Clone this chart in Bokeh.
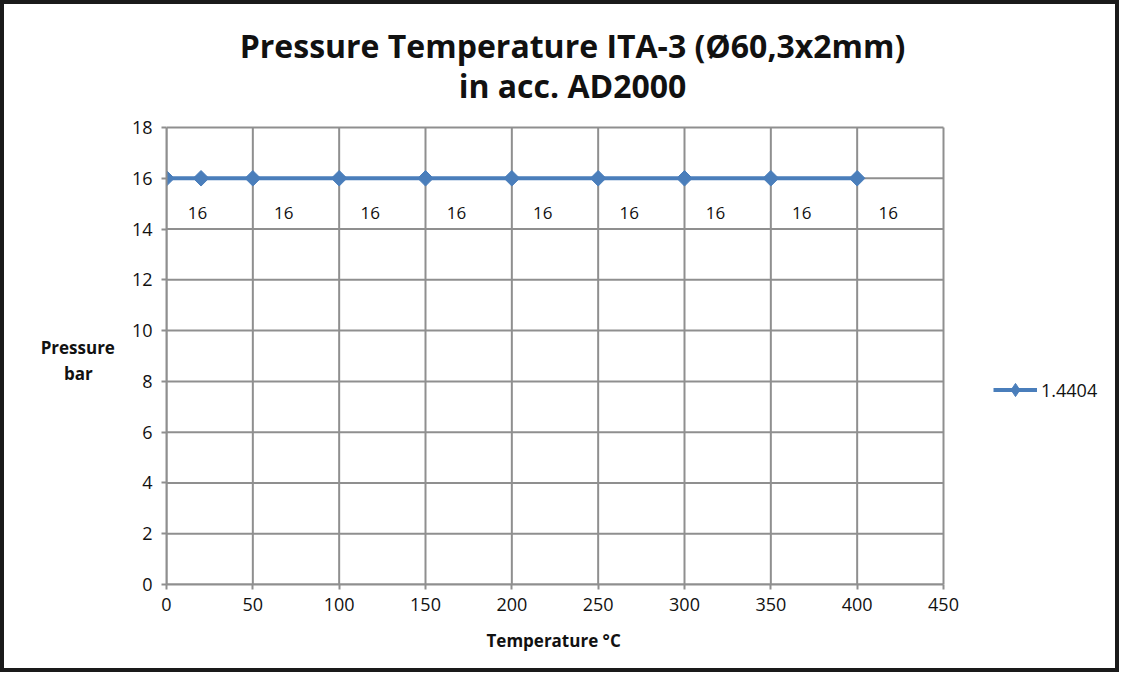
import math
from bokeh.plotting import figure
from bokeh.models import Range1d, FixedTicker, Legend, LegendItem, ColumnDataSource, Label, Title
from bokeh.core.properties import value
from bokeh.embed import file_html
from bokeh.resources import INLINE

# ---- data ----
temps = [0, 20, 50, 100, 150, 200, 250, 300, 350, 400]
pressure = [16, 16, 16, 16, 16, 16, 16, 16, 16, 16]
label_temps = [0, 50, 100, 150, 200, 250, 300, 350, 400]
series_name = "1.4404"
x_ticks = [0, 50, 100, 150, 200, 250, 300, 350, 400, 450]
y_ticks = [0, 2, 4, 6, 8, 10, 12, 14, 16, 18]
title1 = "Pressure Temperature ITA-3 (Ø60,3x2mm)"
title2 = "in acc. AD2000"
x_title = "Temperature °C"
y_title_lines = ["Pressure", "bar"]

FONT = "Open Sans"
BLUE = "#4a7ebb"
GRID = "#8f8f8f"
TXT = "#111111"

W, H = 1119, 672
FL, FR, FT, FB = 162, 939, 123, 580  # target plot-area edges inside canvas (px)

x0, x1 = x_ticks[0], x_ticks[-1]
y0, y1 = y_ticks[0], y_ticks[-1]
# the frame reaches the canvas top and right edge; ranges extended so that
# the ticked area lands on the target pixels
x_end = x0 + (x1 - x0) * (W - FL) / (FR - FL)
y_end = y0 + (y1 - y0) * (FB - 0) / (FB - FT)

p = figure(width=W, height=H, output_backend="svg", toolbar_location=None,
           title=None,
           x_range=Range1d(x0, x_end), y_range=Range1d(y0, y_end),
           min_border_left=FL, min_border_right=0,
           min_border_top=0, min_border_bottom=H - FB,
           background_fill_color="white", border_fill_color="white")
p.styles = {"border": "4px solid #1a1a1a"}
p.outline_line_color = None
p.xgrid.visible = False
p.ygrid.visible = False

def xd(px):
    return x0 + (px - FL) * (x1 - x0) / (FR - FL)

def yd(py):
    return y0 + (FB - py) * (y1 - y0) / (FB - FT)

for ax in (p.xaxis[0], p.yaxis[0]):
    ax.axis_line_color = GRID
    ax.axis_line_width = 2
    ax.major_tick_line_color = GRID
    ax.major_tick_line_width = 2
    ax.major_tick_out = 5
    ax.major_tick_in = 0
    ax.minor_tick_line_color = None
    ax.major_label_text_font = FONT
    ax.major_label_text_font_size = "18px"
    ax.major_label_text_color = TXT
    ax.axis_label_text_font = FONT
    ax.axis_label_text_font_size = "17px"
    ax.axis_label_text_font_style = "bold"
    ax.axis_label_text_color = TXT

p.xaxis.bounds = (x0, x1)
p.yaxis.bounds = (y0, y1)
p.xaxis.ticker = FixedTicker(ticks=x_ticks)
p.yaxis.ticker = FixedTicker(ticks=y_ticks)
p.xaxis.major_label_standoff = 8
p.yaxis.major_label_standoff = 9

# y-axis title: horizontal, pushed down to the middle of the ticked area
# (leading empty lines) and with the short line padded so both lines centre
pad = "\u00a0" * 5
p.yaxis.axis_label = "\n" * 5 + y_title_lines[0] + "\n" + y_title_lines[1] + pad
p.yaxis.axis_label_orientation = "horizontal"
p.yaxis.axis_label_standoff = 14
p.yaxis.axis_label_text_line_height = 1.15

# x-axis title below the axis, centred under the ticked area
p.add_layout(Title(text=x_title, align="left", offset=320, standoff=26,
                   text_font=FONT, text_font_size="17px", text_font_style="bold",
                   text_color=TXT), "below")

# grid drawn inside the ticked area only
p.segment(x0=x_ticks, y0=[y0] * len(x_ticks), x1=x_ticks, y1=[y1] * len(x_ticks),
          line_color=GRID, line_width=2)
p.segment(x0=[x0] * len(y_ticks), y0=y_ticks, x1=[x1] * len(y_ticks), y1=y_ticks,
          line_color=GRID, line_width=2)

src = ColumnDataSource(dict(x=temps, y=pressure))
r_line = p.line("x", "y", source=src, line_color=BLUE, line_width=4)
# diamond used for the legend swatch; it sits fully under the rotated squares
r_leg = p.scatter("x", "y", source=src, marker="diamond", size=13,
                  fill_color=BLUE, line_color=BLUE)
r_pts = p.scatter("x", "y", source=src, marker="square", size=11, angle=math.pi / 4,
                  fill_color=BLUE, line_color=BLUE)

lab_vals = [pressure[temps.index(t)] for t in label_temps]
lsrc = ColumnDataSource(dict(x=label_temps, y=lab_vals, t=[str(v) for v in lab_vals]))
p.text("x", "y", text="t", source=lsrc, x_offset=31, y_offset=35,
       text_align="center", text_baseline="middle",
       text_font=value(FONT), text_font_size="17px", text_color=TXT)

# chart title
for txt, py in ((title1, 41), (title2, 81)):
    p.add_layout(Label(x=xd(568), y=yd(py), text=txt, text_align="center",
                       text_baseline="middle", text_font=FONT, text_font_size="32px",
                       text_font_style="bold", text_color=TXT))

legend = Legend(items=[LegendItem(label=series_name, renderers=[r_line, r_leg])],
                location=(827, 178), padding=0, margin=0, spacing=0,
                glyph_width=44, glyph_height=33, label_standoff=4,
                border_line_color=None, background_fill_alpha=0,
                label_text_font=FONT, label_text_font_size="18px", label_text_color=TXT)
p.add_layout(legend, "center")

open("out.html", "w").write(file_html(p, INLINE))
